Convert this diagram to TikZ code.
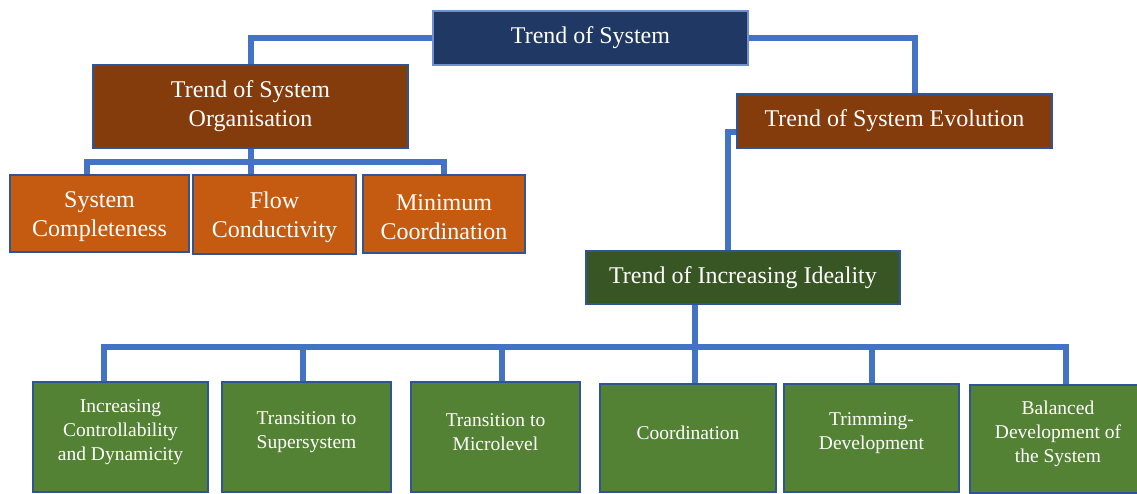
\documentclass[tikz,border=0pt]{standalone}
\usepackage{fontspec}
\setmainfont{Liberation Serif}
\definecolor{navy}{HTML}{1F3864}
\definecolor{rust}{HTML}{843C0C}
\definecolor{orng}{HTML}{C55A11}
\definecolor{dgreen}{HTML}{375623}
\definecolor{mgreen}{HTML}{548235}
\definecolor{bord}{HTML}{2F5597}
\definecolor{lbord}{HTML}{6F8FCF}
\definecolor{conncol}{HTML}{4472C4}
\tikzset{
  box/.style={draw=bord, line width=2pt, inner sep=0pt, text=white, align=center,
    font=\fontsize{24}{29}\selectfont},
  smallbox/.style={draw=bord, line width=2pt, inner sep=0pt},
  txt/.style={text=white, align=center, inner sep=0pt, font=\fontsize{19.5}{24}\selectfont},
  btxt/.style={text=white, align=center, inner sep=0pt, font=\fontsize{24}{29}\selectfont},
  conn/.style={draw=conncol, line width=6pt, line join=miter},
}
\begin{document}
\begin{tikzpicture}[x=1pt,y=-1pt]
\useasboundingbox (0,0) rectangle (1137,494);
% boxes
\node[box, fill=navy, draw=lbord, minimum width=315pt, minimum height=54pt] (top) at (590.5,38) {Trend of System};
\node[box, fill=rust, minimum width=315pt, minimum height=83pt] (org) at (250.5,106.5) {Trend of System\\Organisation};
\node[box, fill=rust, minimum width=315pt, minimum height=54pt] (evo) at (894.5,121) {Trend of System Evolution};
\node[smallbox, fill=orng, minimum width=179pt, minimum height=77pt] (sc) at (99.5,213.5) {};
\node[smallbox, fill=orng, minimum width=163pt, minimum height=79pt] (fc) at (274.5,214.5) {};
\node[smallbox, fill=orng, minimum width=162pt, minimum height=78pt] (mc) at (444,214) {};
\node[btxt] (tsc) at ([yshift=-3pt]sc.center) {System\\Completeness};
\node[btxt] (tfc) at ([yshift=-3pt]fc.center) {Flow\\Conductivity};
\node[btxt] (tmc) at ([yshift=-3pt]mc.center) {Minimum\\Coordination};
\node[box, fill=dgreen, minimum width=314pt, minimum height=53pt] (ideal) at (743,277.5) {Trend of Increasing Ideality};
\node[smallbox, fill=mgreen, minimum width=175pt, minimum height=110pt] (b1) at (120.5,437) {};
\node[smallbox, fill=mgreen, minimum width=169pt, minimum height=110pt] (b2) at (306.5,437) {};
\node[smallbox, fill=mgreen, minimum width=169pt, minimum height=110pt] (b3) at (495.5,437) {};
\node[smallbox, fill=mgreen, minimum width=176pt, minimum height=108pt] (b4) at (688,438) {};
\node[smallbox, fill=mgreen, minimum width=175pt, minimum height=108pt] (b5) at (871.5,438) {};
\node[smallbox, fill=mgreen, minimum width=176pt, minimum height=108pt] (b6) at (1058,439) {};
% texts of bottom boxes
\node[txt] (t1) at ([yshift=5pt]b1.center) {Increasing\\Controllability\\and Dynamicity};
\node[txt] (t2) at ([yshift=5pt]b2.center) {Transition to\\Supersystem};
\node[txt] (t3) at ([yshift=5pt]b3.center) {Transition to\\Microlevel};
\node[txt] (t4) at ([yshift=5pt]b4.center) {Coordination};
\node[txt] (t5) at ([yshift=5pt]b5.center) {Trimming-\\Development};
\node[txt] (t6) at ([yshift=5pt]b6.center) {Balanced\\Development of\\the System};
% connectors
\coordinate (ob) at (250.5,162);
\coordinate (ib) at (695,347);
\draw[conn] (top.west) -| (org.north);
\draw[conn] (top.east) -| ([xshift=20.5pt]evo.north);
\draw[conn] (org.south) -- (fc.north -| org.south);
\draw[conn] ([xshift=-12.5pt]sc.north) |- (ob) -| (mc.north);
\draw[conn] ([yshift=-11pt]evo.west) -| ([xshift=-15pt]ideal.north);
\draw[conn] ([xshift=-48pt]ideal.south) -- ([xshift=7pt]b4.north);
\draw[conn] ([xshift=-16.5pt]b1.north) |- (ib) -| ([xshift=8pt]b6.north);
\draw[conn] ([xshift=-3.5pt]b2.north) |- (ib);
\draw[conn] ([xshift=6.5pt]b3.north) |- (ib);
\draw[conn] (b5.north) |- (ib);
\end{tikzpicture}
\end{document}
